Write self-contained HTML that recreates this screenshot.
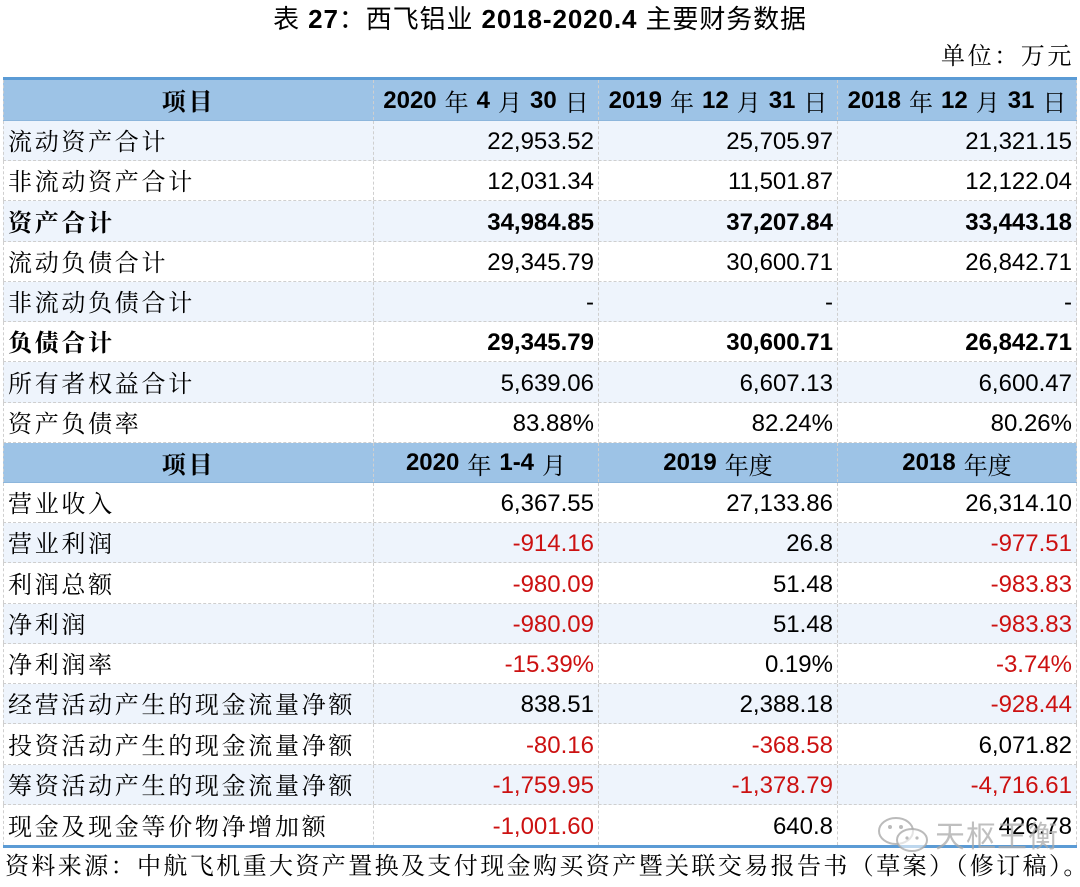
<!DOCTYPE html>
<html><head><meta charset="utf-8">
<style>
*{margin:0;padding:0;box-sizing:border-box}
html,body{width:1080px;height:887px;background:#fff;overflow:hidden}
body{position:relative;font-family:"Liberation Sans","Noto Sans CJK SC",sans-serif;color:#000}
.title{position:absolute;left:0;width:1080px;top:3px;height:32px;line-height:32px;text-align:center;font-size:26px;letter-spacing:0.9px;font-family:"Liberation Sans","Noto Sans CJK SC",sans-serif}
.title b{font-weight:bold}
.unit{position:absolute;right:6px;top:42px;height:30px;line-height:30px;font-size:24px;letter-spacing:2.6px;font-family:"Liberation Serif","Noto Serif CJK SC",serif}
.topline{position:absolute;left:3px;width:1074px;top:77px;height:3px;background:#5b9bd5}
.botline{position:absolute;left:3px;width:1074px;top:845px;height:3px;background:#5b9bd5}
.row{position:absolute;left:3px;width:1074px;display:flex;border-bottom:1px dashed #cfcfcf}
.row.b{background:#eef4fc}
.row.w{background:#fff}
.row.h{background:#9dc3e6;border-bottom:1px solid #8db6dc}
.c{height:100%;display:flex;align-items:center;border-left:1px dashed #cfcfcf;white-space:nowrap}
.c0{width:370px;padding-left:4px;padding-bottom:2px;font-family:"Liberation Serif","Noto Serif CJK SC",serif;font-size:24px;letter-spacing:2.7px}
.c1{width:225px}
.c2{width:239px}
.c3{width:240px;border-right:1px dashed #cfcfcf}
.n{justify-content:flex-end;padding-right:4px;padding-top:3px;font-size:24px;font-family:"Liberation Sans",sans-serif}
.r{color:#cc1111}
.bold{font-weight:bold}
.h .c{justify-content:center;font-size:24px;padding-top:1px}
.h .c0{padding-left:0;font-weight:bold}
.h b{font-family:"Liberation Sans",sans-serif;font-weight:bold}
.h .cj{font-family:"Liberation Serif","Noto Serif CJK SC",serif;padding:0 8px}
.foot{position:absolute;left:5px;top:851px;height:32px;line-height:32px;font-size:24px;letter-spacing:2.4px;font-family:"Liberation Serif","Noto Serif CJK SC",serif;white-space:nowrap}
.wm{position:absolute;left:935px;top:812px;font-size:30px;color:rgba(170,170,170,0.75);font-family:"Noto Sans CJK SC",sans-serif;letter-spacing:1px}
.wmi{position:absolute;left:876px;top:815px}
</style></head><body>
<div class="title">表 <b>27</b>：西飞铝业 <b>2018-2020.4</b> 主要财务数据</div>
<div class="unit">单位：万元</div>
<div class="topline"></div>

<div class="row h" style="top:80px;height:41px"><div class="c c0">项目</div><div class="c c1"><b>2020</b><span class="cj">年</span><b>4</b><span class="cj">月</span><b>30</b><span class="cj" style="padding-right:0">日</span></div><div class="c c2"><b>2019</b><span class="cj">年</span><b>12</b><span class="cj">月</span><b>31</b><span class="cj" style="padding-right:0">日</span></div><div class="c c3"><b>2018</b><span class="cj">年</span><b>12</b><span class="cj">月</span><b>31</b><span class="cj" style="padding-right:0">日</span></div></div>

<div class="row b" style="top:121px;height:40px"><div class="c c0">流动资产合计</div><div class="c c1 n">22,953.52</div><div class="c c2 n">25,705.97</div><div class="c c3 n">21,321.15</div></div>
<div class="row w" style="top:161px;height:40px"><div class="c c0">非流动资产合计</div><div class="c c1 n">12,031.34</div><div class="c c2 n">11,501.87</div><div class="c c3 n">12,122.04</div></div>
<div class="row b" style="top:201px;height:41px"><div class="c c0 bold">资产合计</div><div class="c c1 n bold">34,984.85</div><div class="c c2 n bold">37,207.84</div><div class="c c3 n bold">33,443.18</div></div>
<div class="row w" style="top:242px;height:40px"><div class="c c0">流动负债合计</div><div class="c c1 n">29,345.79</div><div class="c c2 n">30,600.71</div><div class="c c3 n">26,842.71</div></div>
<div class="row b" style="top:282px;height:40px"><div class="c c0">非流动负债合计</div><div class="c c1 n">-</div><div class="c c2 n">-</div><div class="c c3 n">-</div></div>
<div class="row w" style="top:322px;height:40px"><div class="c c0 bold">负债合计</div><div class="c c1 n bold">29,345.79</div><div class="c c2 n bold">30,600.71</div><div class="c c3 n bold">26,842.71</div></div>
<div class="row b" style="top:362px;height:41px"><div class="c c0">所有者权益合计</div><div class="c c1 n">5,639.06</div><div class="c c2 n">6,607.13</div><div class="c c3 n">6,600.47</div></div>
<div class="row w" style="top:403px;height:40px"><div class="c c0">资产负债率</div><div class="c c1 n">83.88%</div><div class="c c2 n">82.24%</div><div class="c c3 n">80.26%</div></div>

<div class="row h" style="top:443px;height:40px"><div class="c c0">项目</div><div class="c c1"><b>2020</b><span class="cj">年</span><b>1-4</b><span class="cj" style="padding-right:0">月</span></div><div class="c c2"><b>2019</b><span class="cj" style="padding-right:0">年度</span></div><div class="c c3"><b>2018</b><span class="cj" style="padding-right:0">年度</span></div></div>

<div class="row w" style="top:483px;height:40px"><div class="c c0">营业收入</div><div class="c c1 n">6,367.55</div><div class="c c2 n">27,133.86</div><div class="c c3 n">26,314.10</div></div>
<div class="row b" style="top:523px;height:40px"><div class="c c0">营业利润</div><div class="c c1 n r">-914.16</div><div class="c c2 n">26.8</div><div class="c c3 n r">-977.51</div></div>
<div class="row w" style="top:563px;height:41px"><div class="c c0">利润总额</div><div class="c c1 n r">-980.09</div><div class="c c2 n">51.48</div><div class="c c3 n r">-983.83</div></div>
<div class="row b" style="top:604px;height:40px"><div class="c c0">净利润</div><div class="c c1 n r">-980.09</div><div class="c c2 n">51.48</div><div class="c c3 n r">-983.83</div></div>
<div class="row w" style="top:644px;height:40px"><div class="c c0">净利润率</div><div class="c c1 n r">-15.39%</div><div class="c c2 n">0.19%</div><div class="c c3 n r">-3.74%</div></div>
<div class="row b" style="top:684px;height:40px"><div class="c c0">经营活动产生的现金流量净额</div><div class="c c1 n">838.51</div><div class="c c2 n">2,388.18</div><div class="c c3 n r">-928.44</div></div>
<div class="row w" style="top:724px;height:41px"><div class="c c0">投资活动产生的现金流量净额</div><div class="c c1 n r">-80.16</div><div class="c c2 n r">-368.58</div><div class="c c3 n">6,071.82</div></div>
<div class="row b" style="top:765px;height:40px"><div class="c c0">筹资活动产生的现金流量净额</div><div class="c c1 n r">-1,759.95</div><div class="c c2 n r">-1,378.79</div><div class="c c3 n r">-4,716.61</div></div>
<div class="row w" style="top:805px;height:40px;border-bottom:none"><div class="c c0">现金及现金等价物净增加额</div><div class="c c1 n r">-1,001.60</div><div class="c c2 n">640.8</div><div class="c c3 n">426.78</div></div>

<div class="botline"></div>

<svg class="wmi" width="56" height="40" viewBox="0 0 56 40">
<g fill="none" stroke="rgba(170,170,170,0.8)" stroke-width="2">
<ellipse cx="20" cy="16" rx="17" ry="13"/>
<ellipse cx="36" cy="25" rx="15" ry="11" fill="rgba(255,255,255,0.6)"/>
</g>
<g fill="rgba(170,170,170,0.8)">
<circle cx="14" cy="12" r="2"/><circle cx="25" cy="12" r="2"/>
<circle cx="31" cy="23" r="1.6"/><circle cx="41" cy="23" r="1.6"/>
</g>
</svg>
<div class="wm">天枢王衡</div>

<div class="foot">资料来源：中航飞机重大资产置换及支付现金购买资产暨关联交易报告书（草案）（修订稿）。</div>
</body></html>
